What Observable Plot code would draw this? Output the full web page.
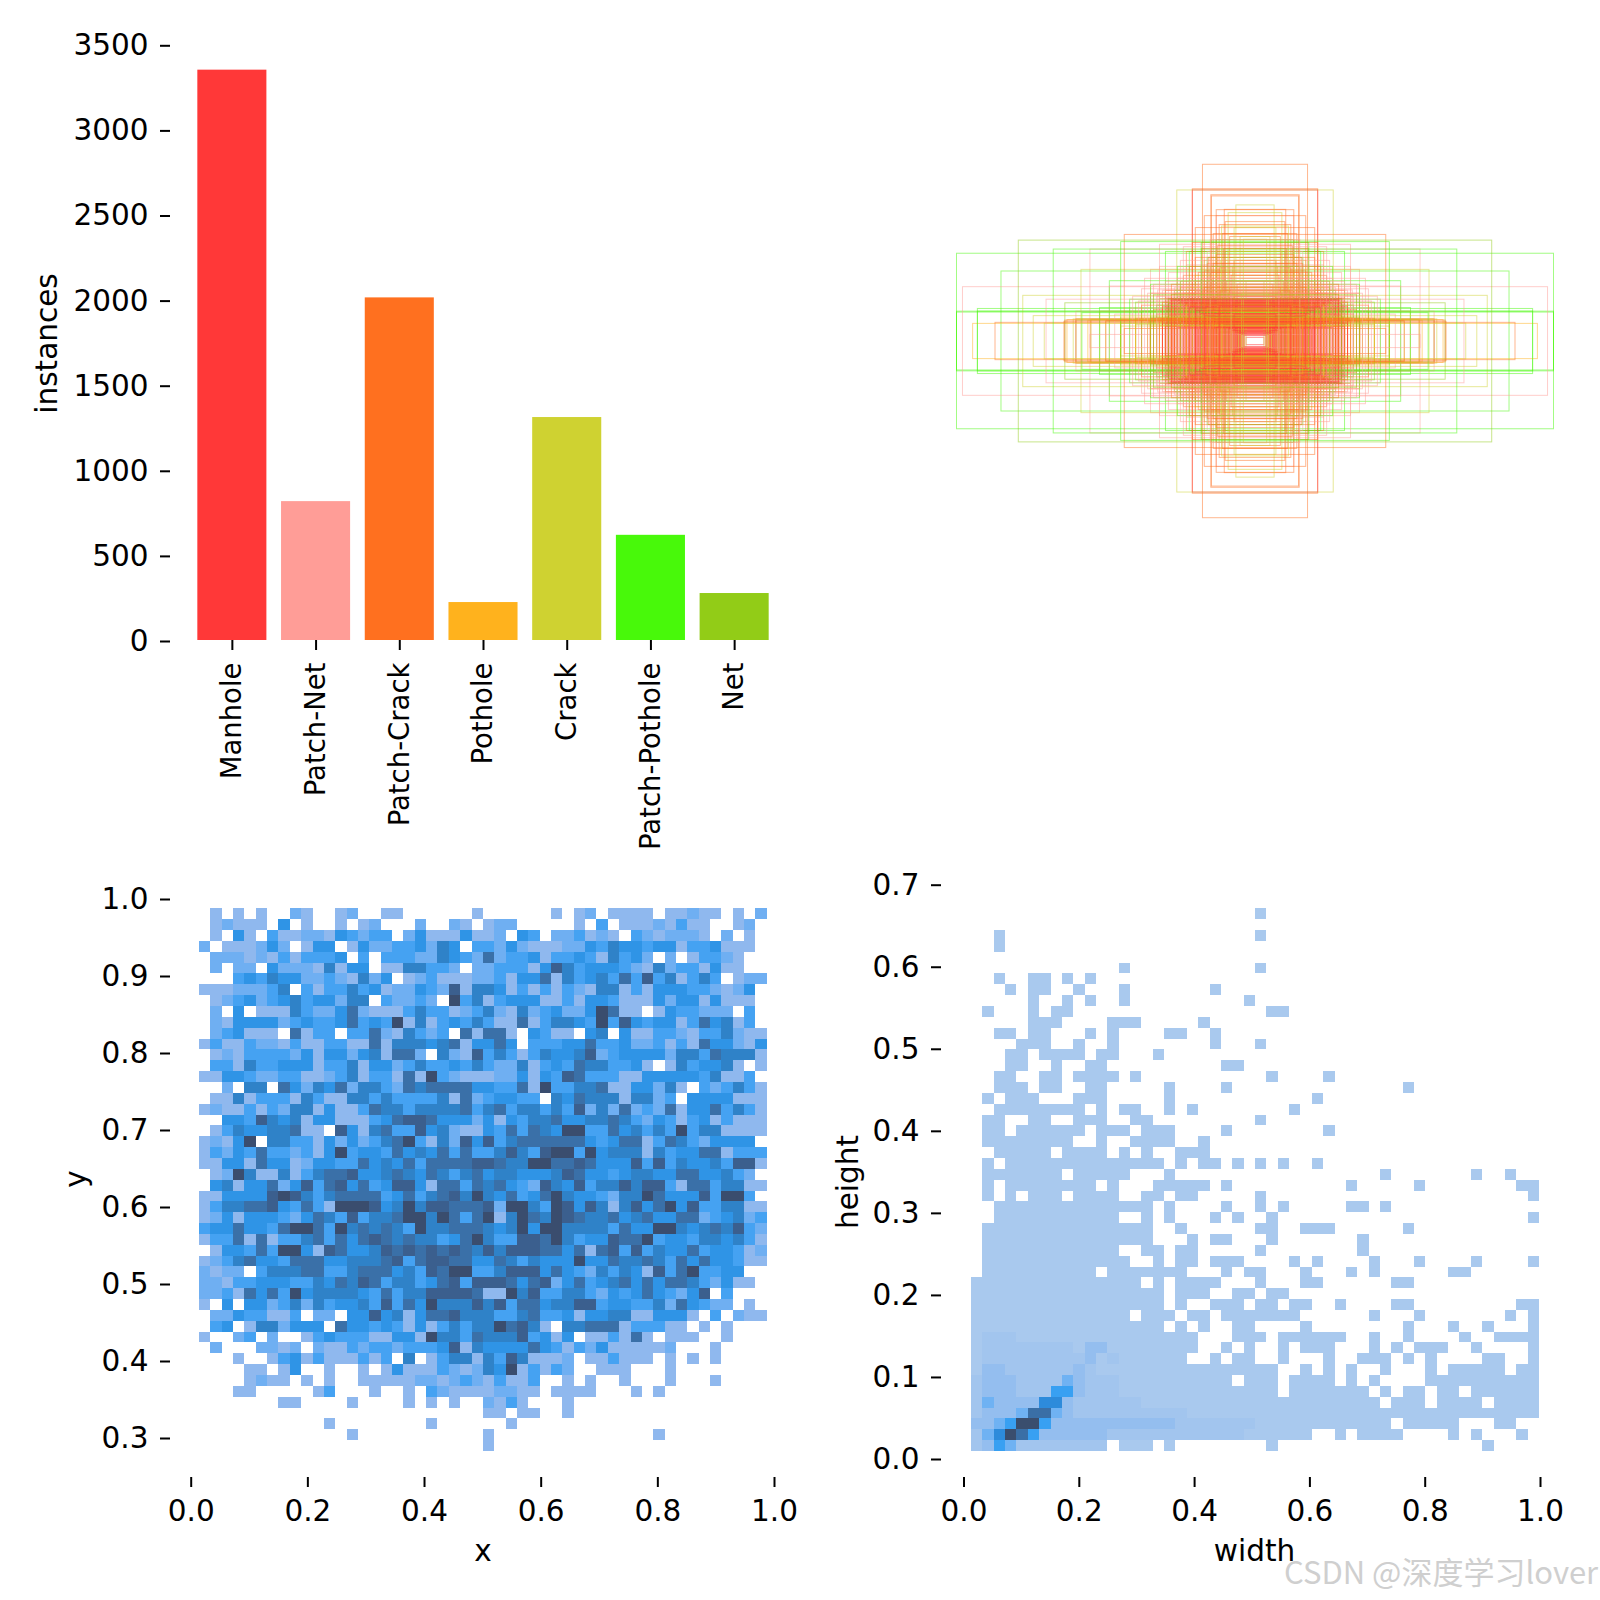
<!DOCTYPE html>
<html><head><meta charset="utf-8">
<script src="https://cdn.jsdelivr.net/npm/d3@7"></script>
<script src="https://cdn.jsdelivr.net/npm/@observablehq/plot@0.6"></script>
<style>
html,body{margin:0;padding:0;background:#fff}
#page{position:relative;width:1600px;height:1600px;overflow:hidden;background:#fff;font-family:"DejaVu Sans"}
#page svg{position:absolute;overflow:visible;background:transparent}
#mark{position:absolute;left:1284px;top:1548px;font:31px "Noto Sans CJK SC";color:#cfcfcf;white-space:nowrap;z-index:5}
</style></head><body><div id="page"><div id="mark">CSDN @深度学习lover</div></div>
<script>
const classNames = ["Manhole","Patch-Net","Patch-Crack","Pothole","Crack","Patch-Pothole","Net"];
const classCounts = [3351,816,2013,223,1310,618,276];
const classColors = ["#FF3838","#FF9D97","#FF701F","#FFB21D","#CFD231","#48F90A","#92CC17"];
const barTicks = [0,500,1000,1500,2000,2500,3000,3500];
const unitTicks = [0,0.2,0.4,0.6,0.8,1];
const yTicks = [0.3,0.4,0.5,0.6,0.7,0.8,0.9,1];
const heightTicks = [0,0.1,0.2,0.3,0.4,0.5,0.6,0.7];

// box sizes [width, height], read from the overlaid rectangles
const boxesManhole = [[.03,.012],[.036,.018],[.04,.02],[.044,.024],[.048,.022],[.052,.026],[.055,.03],[.058,.024],[.06,.032],[.063,.028],[.066,.034],[.07,.03],[.072,.038],[.075,.034],[.078,.04],[.08,.036],[.083,.044],[.086,.04],[.088,.046],[.09,.042],[.093,.05],[.096,.045],[.098,.052],[.1,.048],[.103,.054],[.106,.05],[.108,.056],[.11,.06],[.113,.055],[.116,.062],[.118,.058],[.12,.064],[.123,.06],[.126,.066],[.128,.062],[.13,.07],[.133,.066],[.136,.072],[.138,.068],[.14,.076],[.143,.07],[.146,.078],[.148,.074],[.15,.08],[.153,.076],[.156,.082],[.158,.078],[.16,.086],[.163,.08],[.166,.088],[.168,.084],[.17,.092],[.173,.086],[.176,.094],[.178,.09],[.18,.098],[.183,.092],[.186,.1],[.188,.096],[.19,.104],[.193,.098],[.196,.106],[.198,.102],[.2,.11],[.204,.104],[.208,.112],[.212,.108],[.216,.116],[.22,.112],[.224,.12],[.228,.116],[.232,.124],[.236,.12],[.24,.128],[.245,.124],[.25,.132],[.255,.128],[.26,.136],[.265,.13],[.27,.138],[.275,.134],[.28,.14],[.285,.136],[.29,.142],[.295,.138],[.3,.144],[.21,.506],[.3,.05],[.28,.07],[.31,.06],[.26,.045],[.29,.085],[.25,.066],[.3,.1],[.27,.09],[.23,.074],[.22,.054],[.31,.115],[.29,.125],[.19,.068],[.17,.05],[.16,.064],[.13,.046],[.05,.06],[.06,.075],[.07,.09],[.08,.105],[.09,.12],[.1,.135],[.04,.07],[.05,.11],[.065,.13],[.12,.118],[.14,.13],[.165,.122],[.18,.134],[.2,.126],[.22,.14]];
const boxesPatchNet = [[.98,.182],[.553,.308],[.553,.022],[.488,.184],[.39,.134],[.326,.171],[.32,.324],[.24,.316],[.229,.255],[.13,.42],[.22,.2],[.2,.17],[.18,.25],[.16,.3],[.3,.2],[.36,.16],[.42,.11],[.47,.09],[.27,.18],[.12,.15],[.1,.22],[.08,.17],[.6,.1],[.7,.14],[.35,.24],[.25,.27],[.15,.34],[.26,.21],[.19,.19],[.33,.15],[.14,.2],[.11,.26],[.31,.17],[.23,.15],[.17,.16],[.34,.19],[.38,.175],[.29,.23],[.41,.15],[.37,.21],[.32,.25]];
const boxesPatchCrack = [[.871,.0625],[.637,.07],[.64,.066],[.352,.067],[.438,.042],[.438,.357],[.277,.137],[.146,.486],[.148,.49],[.103,.441],[.176,.592],[.21,.51],[.3,.06],[.32,.07],[.35,.075],[.25,.08],[.26,.066],[.28,.072],[.22,.09],[.2,.13],[.19,.15],[.17,.18],[.16,.2],[.15,.23],[.14,.26],[.13,.29],[.125,.32],[.11,.36],[.1,.4],[.09,.16],[.08,.22],[.07,.27],[.06,.19],[.055,.13],[.05,.1],[.045,.08],[.12,.1],[.14,.12],[.18,.085],[.24,.1],[.29,.09],[.34,.105],[.38,.12],[.36,.064],[.34,.07],[.31,.074],[.27,.06],[.23,.058],[.21,.07],[.18,.05],[.16,.09],[.135,.15],[.115,.17],[.095,.2],[.2,.165],[.23,.14],[.25,.12],[.27,.11],[.17,.235],[.155,.28],[.12,.245],[.105,.31],[.085,.35],[.07,.15],[.6,.075],[.45,.071],[.5,.069],[.4,.076],[.55,.073],[.24,.22],[.22,.25],[.2,.28],[.18,.31],[.23,.3],[.19,.23],[.16,.26],[.21,.33],[.14,.36],[.12,.39],[.17,.42],[.2,.38],[.13,.44],[.25,.18],[.27,.16],[.15,.19],[.18,.21],[.22,.17],[.31,.13],[.33,.09],[.35,.16],[.26,.15],[.28,.19],[.3,.17],[.24,.16],[.28,.156],[.26,.125],[.32,.142]];
const boxesPothole = [[.1,.05],[.15,.07],[.2,.06],[.25,.09],[.08,.035],[.12,.03],[.06,.05],[.05,.04],[.18,.1],[.3,.08],[.35,.05],[.4,.07],[.45,.08],[.63,.072],[.56,.07],[.946,.059],[.28,.05],[.22,.075],[.33,.078],[.13,.085],[.16,.11],[.19,.13],[.23,.12],[.27,.1],[.11,.09],[.14,.1]];
const boxesCrack = [[.262,.506],[.064,.456],[.039,.341],[.743,.085],[.706,.06],[.609,.074],[.583,.24],[.778,.153],[.112,.385],[.09,.43],[.13,.3],[.17,.27],[.2,.22],[.23,.18],[.25,.15],[.28,.12],[.31,.09],[.33,.07],[.36,.06],[.4,.055],[.45,.05],[.5,.065],[.55,.072],[.03,.2],[.045,.16],[.06,.12],[.075,.25],[.09,.3],[.11,.2],[.15,.17],[.035,.1],[.04,.05],[.05,.35],[.07,.38],[.18,.14],[.21,.11],[.26,.095],[.3,.075],[.145,.21],[.115,.27],[.08,.095],[.24,.07],[.19,.055],[.14,.045],[.32,.052],[.055,.14],[.085,.18],[.1,.12],[.125,.16],[.16,.135],[.22,.09],[.29,.105]];
const boxesPatchPothole = [[1,.294],[1,.1],[1,.097],[.93,.109],[.851,.2345],[.676,.308],[.521,.112],[.488,.202],[.45,.333],[.93,.1],[.58,.095],[.42,.14],[.35,.19],[.3,.3],[.26,.25],[.22,.3],[.18,.33],[.16,.28],[.38,.1],[.33,.12]];
const boxesNet = [[.793,.338],[.637,.128],[.52,.1],[.4,.13],[.3,.11],[.34,.155],[.27,.17],[.2,.2],[.15,.25],[.1,.3],[.24,.06],[.45,.06],[.6,.07],[.35,.08],[.17,.12],[.13,.34],[.25,.2],[.29,.14]];

// histogram of box centres: one string per row (top to bottom), one digit per bin, 0 = empty, 8 = densest
const xyEdgesX = [0.0142,0.9877];
const xyEdgesY = [0.9866,0.2818];
const xyRows = [
"0101010021001200110000001"+"0000001012011110112110102",
"0121110401001012000200210"+"1220000010301112131100120",
"0104103112214323302411141"+"1204302231210321222102010",
"2011124201440142233425403"+"3242111224354434413341110",
"0222121313334030333225432"+"6233413343153420201332100",
"0202204222151440115533202"+"2333147534443215233141100",
"0003435442232152401231112"+"2314461534536373513530122",
"1112223503133534122432715"+"5413131321551314443321240",
"0123423453442550322320835"+"1344411314431114244141110",
"0204011153224621113533123"+"5215234224861101433222030",
"0214444234334634381513435"+"3116135543837434413645130",
"0234111061330336215323061"+"6610431104504113321335211",
"1311322131133116155545614"+"4640333446334223131644214",
"0121333324144245166205217"+"3531354457234444255365551",
"0331533444133514423533435"+"3225134365533410153445101",
"1144322331123513316183211"+"1224143763331144444351130",
"0020550642546255326566664"+"4336183355611442510323531",
"0115133315311553533335162"+"3443305465551552304444111",
"1211313255141136553555563"+"5635535372526232614463531",
"0044375451441113467764442"+"4143556445565324313413111",
"0135445561107415633745211"+"4363654883364535383551111",
"1214805533142423568315274"+"7356666664346613653244440",
"1324363323148344364546363"+"3575378838455515344661333",
"1144164412443364546366667"+"7655886676444737354453771",
"0128511513566744565465356"+"4554445764434554466445320",
"0451446247367463477416636"+"5643275473557577316635511",
"1144447875356666346356758"+"5463468544325586444738830",
"1355667436318887458577666"+"7288538747515746847335511",
"1241444324653735568858636"+"8158658765564564466234523",
"3446443688638565653855666"+"5458488555536448854565732",
"1336161335636467656553468"+"5337768534476683443554531",
"0144363884176445767676765"+"7577766461673735446344312",
"1235644366644555673677664"+"4653544484465565364644311",
"2122035556633566645376883"+"3577746432535417368334400",
"2213344433546576355346737"+"7764672463456464665324110",
"2231646384555543635577776"+"1185733553243464324703000",
"1040442352534453736485557"+"5736645577344335264322010",
"0224331130220447451466755"+"5335633414455114441030211",
"0340155244406443431413535"+"5867510556661333110101000",
"1002302001343331144185536"+"5557341401131610111001000",
"0200022120211323323334715"+"4444643132411111200010000",
"0001001341311131305013551"+"5375111201131110101010000",
"0000110140010010141113212"+"5481313200111000100000000",
"0000121101010011111221232"+"1311300101001000100010000",
"0001100000130001001032111"+"1221101111000101000000000",
"0000000110000100001010100"+"2131000100000000000000000",
"0000000000000000000000000"+"1101100100000000000000000",
"0000000000010000000010000"+"0010000000000000000000000",
"0000000000000100000000000"+"1000000000000001000000000",
"0000000000000000000000000"+"1000000000000000000000000"
];

// histogram of box sizes: same coding, digits in groups of ten
const whEdgesX = [0.0130,0.9983];
const whEdgesY = [0.670,0.0085];
const whRows = [
"0000000000 0000000000 0000010000",
"0",
"0010000000 0000000000 0000010000",
"0010000000",
"0",
"0000000000 0001000000 0000010000",
"0010011010 1000000000",
"0001011001 0001000000 0100000000",
"0000010010 1001000000 0000100000",
"0100010110 0000000000 0000001100",
"0000011100 0011100000 1000000000",
"0011011000 1010000110 0100000000",
"0000111001 0010000000 0100010000",
"0001101111 0110001000",
"0001100100 1100000000 0011000000",
"0011001101 1110100000 0000001000 0100000000",
"0011101100 1100000100 0010000000 0000000010",
"0101110001 1100000100 0000000000 1000000000",
"0011111111 0101100101 0000000010",
"0110011001 1100110000 0000010000",
"0110111111 0111011100 0010000000 0100000000",
"0111111110 0100111100 1000000000",
"0011111011 1101010011 1000000000",
"0101111111 1111111010 1101010100 1000000000",
"0111111101 1111000100 0000000000 0000001000 0000100100",
"0101111111 1010001111 1010000000 0001000001 0000000011",
"0101011101 1110011011 0000010000 0000000000 0000000001",
"0011111111 1111110100 0010010100 0001101000",
"0011111111 1110010100 0101001000 0000000000 0000000001",
"0111111111 1111110010 0000011001 1100000010",
"0111111111 1111110001 0110001000 0000100000",
"0111111111 1110011011 0000010000 0000100000",
"0111111111 1111001011 0111000010 1000010001 0000100001",
"0111111111 1011111110 0010110001 0001010000 0011000000",
"1111111111 1111101011 1100010001 1000000110",
"1111111111 1111111011 1001101100",
"1111111111 1111111010 0111011011 0010000110 0000000011",
"1111111111 1111011101 1011111110 0000010001 0000000101",
"1111111111 1111111010 1001100001 0000000010 0010010001",
"1222111111 1111111111 0001110111 1110010010 0001001111",
"1222222221 3311111111 0010100101 1100010101 1100100001",
"1222222222 3121111110 0101100100 0100111010 1000011001",
"1332222223 2111111111 1111111001 0101001000 1011111011",
"2333222243 2221111111 1110111011 1101010000 1111111111",
"2333222553 2221111111 1111111011 1111101011 0110111111",
"2433336632 2222211111 1111111111 1111110111 0111101111",
"2333477432 2222222221 1111111111 1111111111 1111111111",
"3345885333 3333333322 2222211111 1111111011 1110001100",
"2468753333 3322222222 2222111111 0010111100 0010100010",
"2354222222 2201110100 0000001000 0000000000 0000010000"
];
const levels = [1,2,3,4,5,6,7,8];
const xyPalette = ["#8FB8EE","#6FAFF2","#45A2F2","#2F94E6","#2F82C8","#3A70A8","#3B5F8E","#3A4D6E"];
const whPalette = ["#A9C9EE","#A2C5EE","#94BEEF","#6FB2F3","#38A0F2","#2D8BDB","#3A6FA6","#3A4E6E"];

const page = document.getElementById("page");
const fontStyle = {fontFamily:"DejaVu Sans",fontSize:"29.5px",color:"#000",background:"transparent"};
const f1 = d3.format(".1f");
const place = (svg,l,t) => {svg.style.left=l+"px";svg.style.top=t+"px";page.appendChild(svg);};

function cells(rows,ex,ey){
  const out=[];
  const stripped=rows.map(r=>r.replace(/ /g,""));
  const dx=(ex[1]-ex[0])/50, dy=(ey[1]-ey[0])/rows.length;
  stripped.forEach((r,j)=>{[...r].forEach((c,i)=>{
    if(+c>0) out.push({x1:ex[0]+i*dx,x2:ex[0]+(i+1)*dx,y1:ey[0]+j*dy,y2:ey[0]+(j+1)*dy,level:+c});
  });});
  return out;
}

// bars
place(Plot.plot({
  width:800,height:860,marginLeft:170,marginRight:25,marginTop:46,marginBottom:220,style:fontStyle,
  x:{domain:classNames,range:[190,776],paddingInner:.175,paddingOuter:.0875,round:false,label:null},
  y:{domain:[0,3500],range:[640,44.3],label:null},
  color:{domain:classNames,range:classColors},
  marks:[
    Plot.barY(classNames.map((c,i)=>({c,v:classCounts[i]})),{x:"c",y:"v",fill:"c"}),
    Plot.axisX({anchor:"bottom",tickSize:10,tickPadding:12,tickRotate:-90,strokeWidth:2,fontSize:27.5,label:null}),
    Plot.axisY({anchor:"left",ticks:barTicks,tickSize:10,tickPadding:12,strokeWidth:2,dy:1,tickFormat:d=>String(d),label:"instances",labelAnchor:"center",labelArrow:"none",labelOffset:134})
  ]
}),0,0);

// boxes: classes interleaved in draw order, as they overlap in the picture
const boxLists = [boxesManhole,boxesPatchNet,boxesPatchCrack,boxesPothole,boxesCrack,boxesPatchPothole,boxesNet];
const boxRows = d3.sort(
  boxLists.flatMap((list,i)=>list.map(([w,h])=>({w,h,c:classNames[i]}))),
  d=>(d.w*997+d.h*613)%1
);
place(Plot.plot({
  width:800,height:860,margin:0,style:fontStyle,
  x:{domain:[-.5,.5],range:[156.5,753.5],axis:null},
  y:{domain:[.5,-.5],range:[42.5,639.5],axis:null},
  color:{domain:classNames,range:classColors},
  marks:[Plot.rect(boxRows,{x1:d=>-d.w/2,x2:d=>d.w/2,y1:d=>-d.h/2,y2:d=>d.h/2,fill:"none",stroke:"c",strokeWidth:1,strokeOpacity:.5})]
}),800,0);

// x / y histogram
place(Plot.plot({
  width:800,height:740,marginLeft:170,marginRight:5,marginTop:20,marginBottom:123,style:fontStyle,
  x:{domain:[0,1],range:[190.7,774]},
  y:{domain:[1,.3],range:[38,577]},
  color:{type:"ordinal",domain:levels,range:xyPalette},
  marks:[
    Plot.rect(cells(xyRows,xyEdgesX,xyEdgesY),{x1:"x1",x2:"x2",y1:"y1",y2:"y2",fill:"level",shapeRendering:"crispEdges"}),
    Plot.axisX({anchor:"bottom",ticks:unitTicks,tickFormat:f1,tickSize:10,tickPadding:13,strokeWidth:2,label:"x",labelAnchor:"center",labelArrow:"none",labelOffset:83}),
    Plot.axisY({anchor:"left",ticks:yTicks,tickFormat:f1,tickSize:10,tickPadding:12,strokeWidth:2,dy:1,label:"y",labelAnchor:"center",labelArrow:"none",labelOffset:105})
  ]
}),0,860);

// width / height histogram
place(Plot.plot({
  width:800,height:740,marginLeft:141,marginRight:33,marginTop:26,marginBottom:123,style:fontStyle,
  x:{domain:[0,1],range:[163.5,740]},
  y:{domain:[.7,0],range:[23.7,598]},
  color:{type:"ordinal",domain:levels,range:whPalette},
  marks:[
    Plot.rect(cells(whRows,whEdgesX,whEdgesY),{x1:"x1",x2:"x2",y1:"y1",y2:"y2",fill:"level",shapeRendering:"crispEdges"}),
    Plot.axisX({anchor:"bottom",ticks:unitTicks,tickFormat:f1,tickSize:10,tickPadding:13,strokeWidth:2,label:"width",labelAnchor:"center",labelArrow:"none",labelOffset:83}),
    Plot.axisY({anchor:"left",ticks:heightTicks,tickFormat:f1,tickSize:10,tickPadding:12,strokeWidth:2,dy:1,label:"height",labelAnchor:"center",labelArrow:"none",labelOffset:104})
  ]
}),800,860);
</script></body></html>
